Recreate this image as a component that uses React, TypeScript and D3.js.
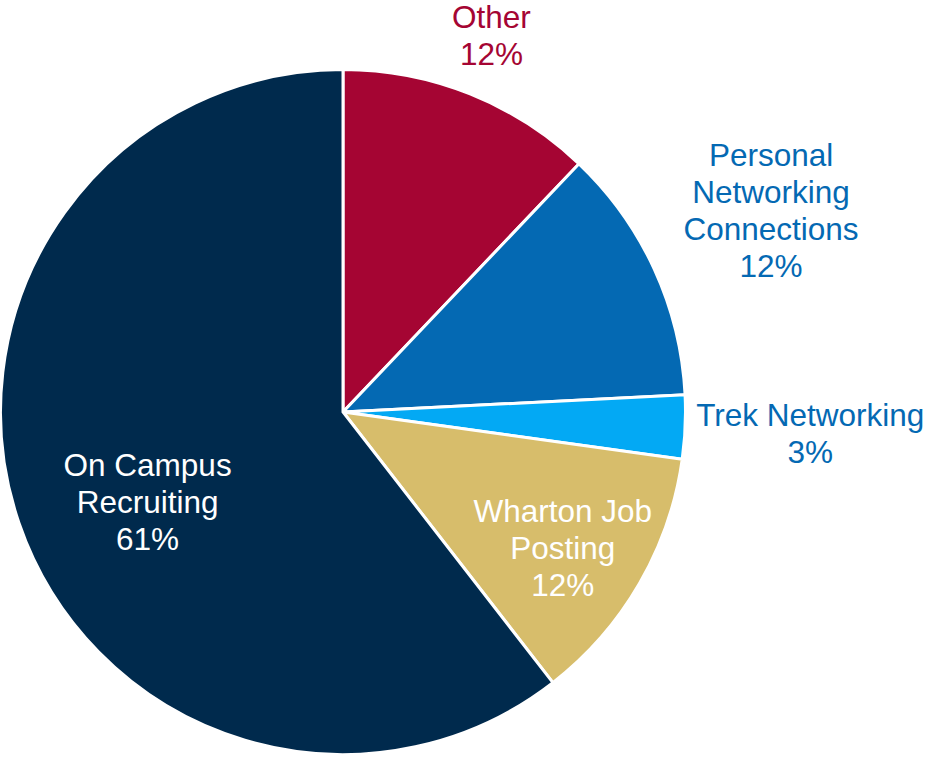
import React from "react";
import * as d3 from "d3";

const categories = ["Other", "Personal Networking Connections", "Trek Networking", "Wharton Job Posting", "On Campus Recruiting"];
const values = [12.1, 12.1, 3.0, 12.3, 60.5];
const labelLines = [
  ["Other", "12%"],
  ["Personal", "Networking", "Connections", "12%"],
  ["Trek Networking", "3%"],
  ["Wharton Job", "Posting", "12%"],
  ["On Campus", "Recruiting", "61%"],
];
const colors = ["#A50533", "#0469B3", "#03A9F4", "#D7BD6B", "#002A4D"];
const labelColors = ["#A50533", "#0469B3", "#0469B3", "#FFFFFF", "#FFFFFF"];
const labelRadius = [400, 471, 468, 261, 217];
const labelAngleShift = [0, 0, 0.012, 0.045, -0.12];

const W = 932;
const H = 757;
const cx = 343;
const cy = 412;
const R = 342.5;

export default function App() {
  const pie = d3.pie<number>().sort(null).value((d) => d)(values);
  const arc = d3.arc<d3.PieArcDatum<number>>().innerRadius(0).outerRadius(R);
  const fontSize = 31.5;
  const lineH = 37;
  return (
    <div style={{ position: "absolute", left: 0, top: 0 }}>
      <svg width={W} height={H} style={{ display: "block", fontFamily: "'Liberation Sans', Arial, sans-serif" }}>
        <rect width={W} height={H} fill="#fff" />
        <g transform={`translate(${cx},${cy})`}>
          {pie.map((p, i) => (
            <path key={categories[i]} d={arc(p) || ""} fill={colors[i]} stroke="#fff" strokeWidth={3} strokeLinejoin="miter" />
          ))}
          {pie.map((p, i) => {
            const a = (p.startAngle + p.endAngle) / 2 + labelAngleShift[i];
            const r = labelRadius[i];
            const x = Math.sin(a) * r;
            const y = -Math.cos(a) * r;
            const lines = labelLines[i];
            const y0 = y - ((lines.length - 1) * lineH) / 2 + fontSize * 0.2;
            return (
              <text key={"l" + i} x={x} y={y0} fill={labelColors[i]} fontSize={fontSize} textAnchor="middle">
                {lines.map((t, j) => (
                  <tspan key={j} x={x} y={y0 + j * lineH}>{t}</tspan>
                ))}
              </text>
            );
          })}
        </g>
      </svg>
    </div>
  );
}
